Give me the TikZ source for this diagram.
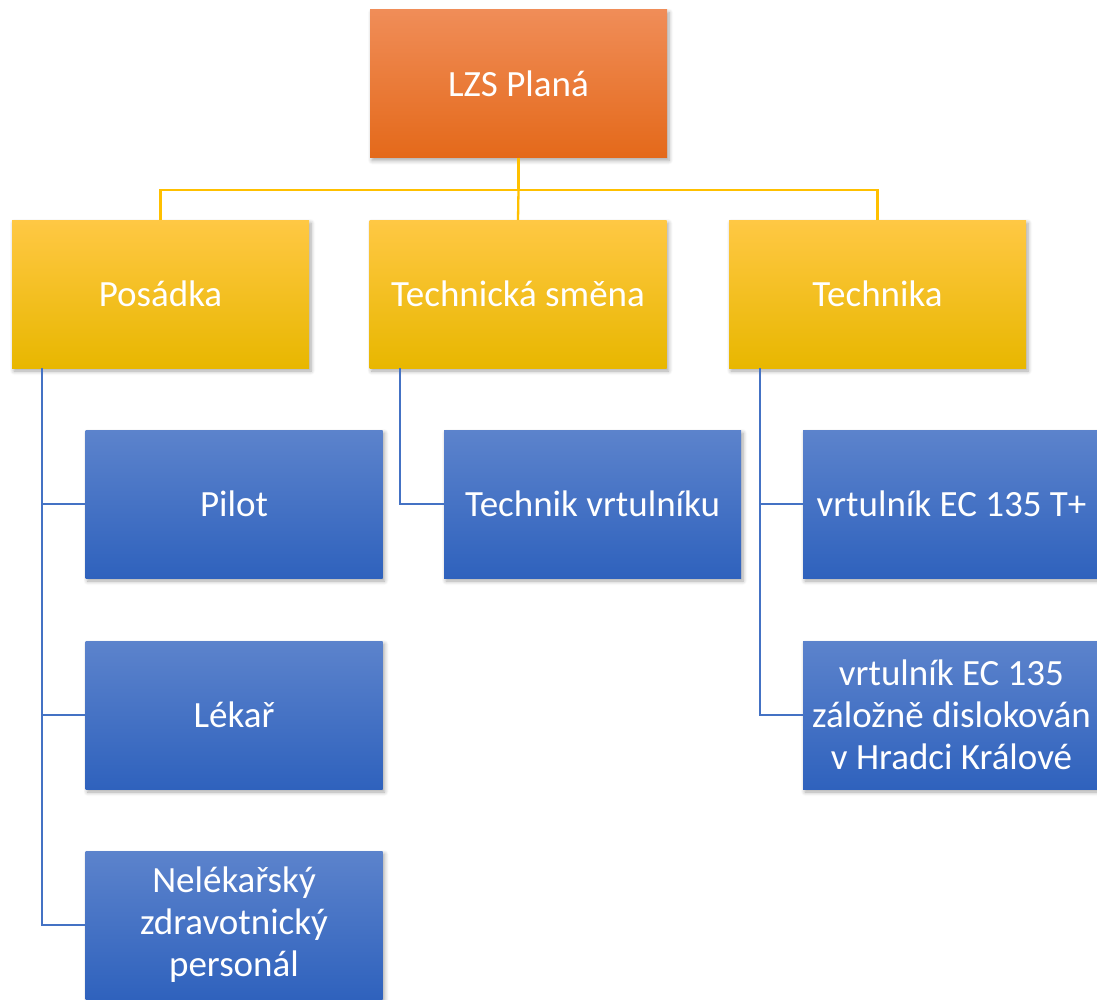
\documentclass[tikz,border=0pt]{standalone}
\usepackage{fontspec}
\setmainfont{Carlito}
\usetikzlibrary{shadows.blur}
\definecolor{orT}{HTML}{F08D58}
\definecolor{orB}{HTML}{E4691A}
\definecolor{yeT}{HTML}{FFC844}
\definecolor{yeB}{HTML}{E8B700}
\definecolor{blT}{HTML}{5C83CC}
\definecolor{blB}{HTML}{2F62BD}
\definecolor{yline}{HTML}{FFC000}
\definecolor{bline}{HTML}{4472C4}
\tikzset{
  box/.style={rectangle, minimum width=297pt, minimum height=148pt, inner sep=0pt,
    text=white, align=center, font=\fontsize{37}{42}\selectfont,
    blur shadow={shadow xshift=2pt, shadow yshift=-3pt, shadow blur steps=6, shadow blur radius=4pt, shadow opacity=35}},
  orbox/.style={box, top color=orT, bottom color=orB},
  yebox/.style={box, top color=yeT, bottom color=yeB},
  blbox/.style={box, top color=blT, bottom color=blB},
  yconn/.style={draw=yline, line width=2.3pt},
  bconn/.style={draw=bline, line width=2.3pt},
}
\begin{document}
\begin{tikzpicture}[x=1pt,y=-1pt]
\useasboundingbox (0,0) rectangle (1097,999);
\begin{scope}
\clip (0,0) rectangle (1097,999);
\node[orbox] (root) at (518.5,83.5) {LZS Planá};
\coordinate (ybar) at (518.5,190);
\node[yebox] (pos) at (160.5,294) {Posádka};
\node[yebox] (tsm) at (518,294) {Technická směna};
\node[yebox] (tech) at (877.5,294) {Technika};
\coordinate (pb) at ([xshift=30pt]pos.south west);
\coordinate (tb) at ([xshift=31pt]tsm.south west);
\coordinate (kb) at ([xshift=31pt]tech.south west);
\node[blbox] (pilot) at (234,504) {Pilot};
\node[blbox] (lekar) at (234,715) {Lékař};
\node[blbox] (nel) at (234,925) {Nelékařský\\zdravotnický\\personál};
\node[blbox] (tv) at (592.5,504) {Technik vrtulníku};
\node[blbox] (ec1) at (951.5,504) {vrtulník EC 135 T+};
\node[blbox] (ec2) at (951.5,715) {vrtulník EC 135\\záložně dislokován\\v Hradci Králové};
\draw[yconn] (root.south) -- (ybar);
\draw[yconn] (ybar) -| (pos.north);
\draw[yconn] (ybar) -- (tsm.north);
\draw[yconn] (ybar) -| (tech.north);
\draw[bconn] (pb) |- (pilot.west);
\draw[bconn] (pb) |- (lekar.west);
\draw[bconn] (pb) |- (nel.west);
\draw[bconn] (tb) |- (tv.west);
\draw[bconn] (kb) |- (ec1.west);
\draw[bconn] (kb) |- (ec2.west);
\end{scope}
\end{tikzpicture}
\end{document}
